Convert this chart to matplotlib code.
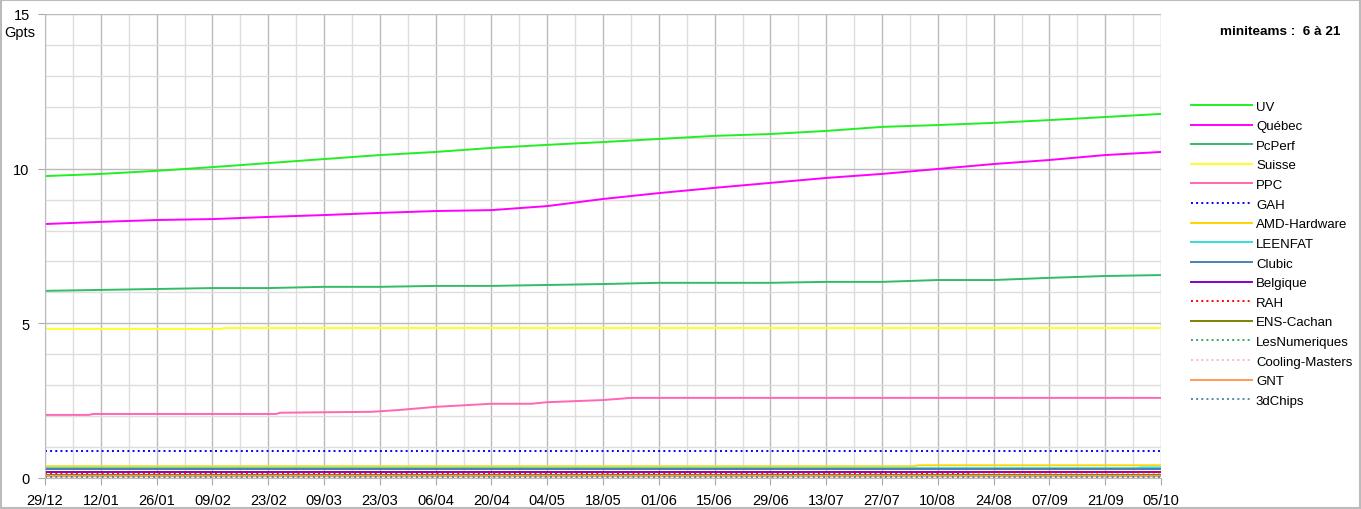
import numpy as np
import matplotlib
matplotlib.use('Agg')
import matplotlib.pyplot as plt
from matplotlib.ticker import MultipleLocator

plt.rcParams['font.family'] = ['Liberation Sans', 'DejaVu Sans']

# x axis: days since 29/12, labels every 14 days
tick_labels = ['29/12', '12/01', '26/01', '09/02', '23/02', '09/03', '23/03',
               '06/04', '20/04', '04/05', '18/05', '01/06', '15/06', '29/06',
               '13/07', '27/07', '10/08', '24/08', '07/09', '21/09', '05/10']
tick_days = [14 * i for i in range(len(tick_labels))]

# values in Gpts, read at the 14-day ticks
uv = [9.76, 9.83, 9.93, 10.05, 10.18, 10.31, 10.44, 10.54, 10.67, 10.77, 10.86,
      10.96, 11.06, 11.12, 11.22, 11.35, 11.41, 11.48, 11.57, 11.67, 11.77]
quebec = [8.21, 8.28, 8.34, 8.37, 8.44, 8.50, 8.57, 8.63, 8.66, 8.79, 9.02,
          9.21, 9.38, 9.54, 9.70, 9.83, 9.99, 10.15, 10.28, 10.44, 10.54]
pcperf = [6.05, 6.08, 6.11, 6.14, 6.14, 6.18, 6.18, 6.21, 6.21, 6.24, 6.27,
          6.31, 6.31, 6.31, 6.34, 6.34, 6.40, 6.40, 6.47, 6.53, 6.56]

# series with breakpoints
suisse_days = [0, 44, 45, 280]
suisse = [4.82, 4.82, 4.85, 4.85]
ppc_days = [0, 11, 12, 58, 59, 82, 89, 98, 112, 122, 126, 140, 147, 280]
ppc = [2.04, 2.04, 2.07, 2.07, 2.11, 2.14, 2.20, 2.30, 2.40, 2.40, 2.45, 2.52, 2.59, 2.59]
gah_days = [0, 280]
gah = [0.87, 0.87]
amd_days = [0, 218, 219, 280]
amd = [0.38, 0.38, 0.41, 0.41]
leenfat_days = [0, 274, 275, 280]
leenfat = [0.32, 0.32, 0.34, 0.34]
clubic_days = [0, 280]
clubic = [0.29, 0.29]
belgique_days = [0, 280]
belgique = [0.18, 0.18]
rah_days = [0, 232, 233, 280]
rah = [0.145, 0.145, 0.18, 0.18]
ens_days = [0, 280]
ens = [0.10, 0.10]
lesnum_days = [0, 280]
lesnum = [0.08, 0.08]
cooling_days = [0, 280]
cooling = [0.065, 0.065]
gnt_days = [0, 280]
gnt = [0.05, 0.05]
chips_days = [0, 280]
chips = [0.03, 0.03]

series = [
    ('UV', tick_days, uv, '#22EE22', '-'),
    ('Québec', tick_days, quebec, '#FF00FF', '-'),
    ('PcPerf', tick_days, pcperf, '#33BB66', '-'),
    ('Suisse', suisse_days, suisse, '#FFFF22', '-'),
    ('PPC', ppc_days, ppc, '#FF66B3', '-'),
    ('GAH', gah_days, gah, '#0000FF', ':'),
    ('AMD-Hardware', amd_days, amd, '#FFD400', '-'),
    ('LEENFAT', leenfat_days, leenfat, '#33DDDD', '-'),
    ('Clubic', clubic_days, clubic, '#4682B4', '-'),
    ('Belgique', belgique_days, belgique, '#8800CC', '-'),
    ('RAH', rah_days, rah, '#FF0000', ':'),
    ('ENS-Cachan', ens_days, ens, '#808000', '-'),
    ('LesNumeriques', lesnum_days, lesnum, '#33AA66', ':'),
    ('Cooling-Masters', cooling_days, cooling, '#FFB6C1', ':'),
    ('GNT', gnt_days, gnt, '#FF9955', '-'),
    ('3dChips', chips_days, chips, '#5588AA', ':'),
]

fig = plt.figure(figsize=(13.61, 5.10), dpi=100)
ax = fig.add_axes([45 / 1361, 31 / 510, 1116 / 1361, 464 / 510])

for name, d, v, col, ls in series:
    ax.plot(d, v, color=col, linestyle=ls, linewidth=1.4, label=name)

ax.set_xlim(0, 280)
ax.set_ylim(0, 15)
ax.set_xticks(tick_days)
ax.set_xticklabels(tick_labels, fontsize=10.5)
ax.xaxis.set_minor_locator(MultipleLocator(7))
ax.set_yticks([0, 5, 10, 15])
ax.set_yticklabels(['0', '5', '10', '15'], fontsize=10.5)
ax.yaxis.set_minor_locator(MultipleLocator(1))
ax.grid(which='major', color='#BBBBBB', linewidth=1)
ax.grid(which='minor', color='#DDDDDD', linewidth=1)
ax.set_axisbelow(True)
ax.tick_params(which='major', length=5, color='#AAAAAA', pad=6)
ax.tick_params(which='minor', length=0)
for s in ['top', 'right']:
    ax.spines[s].set_visible(False)
for s in ['left', 'bottom']:
    ax.spines[s].set_color('#BBBBBB')

fig.text(35 / 1361, 1 - 33 / 510, 'Gpts', ha='right', va='center', fontsize=10.5)
fig.text(1280 / 1361, 1 - 32 / 510, 'miniteams :  6 à 21', ha='center', va='center',
         fontsize=9.7, fontweight='bold')

leg = fig.legend(loc='upper left', bbox_to_anchor=(1186 / 1361, 1 - 96 / 510),
                 frameon=False, fontsize=9.5, handlelength=4.6, handletextpad=0.3,
                 labelspacing=0.56, borderaxespad=0)

# light border around the whole picture
fig.patches.append(plt.Rectangle((0.0005, 0.001), 0.999, 0.997, transform=fig.transFigure,
                                 fill=False, edgecolor='#BBBBBB', linewidth=1.5))

fig.savefig('out.png', dpi=100)
